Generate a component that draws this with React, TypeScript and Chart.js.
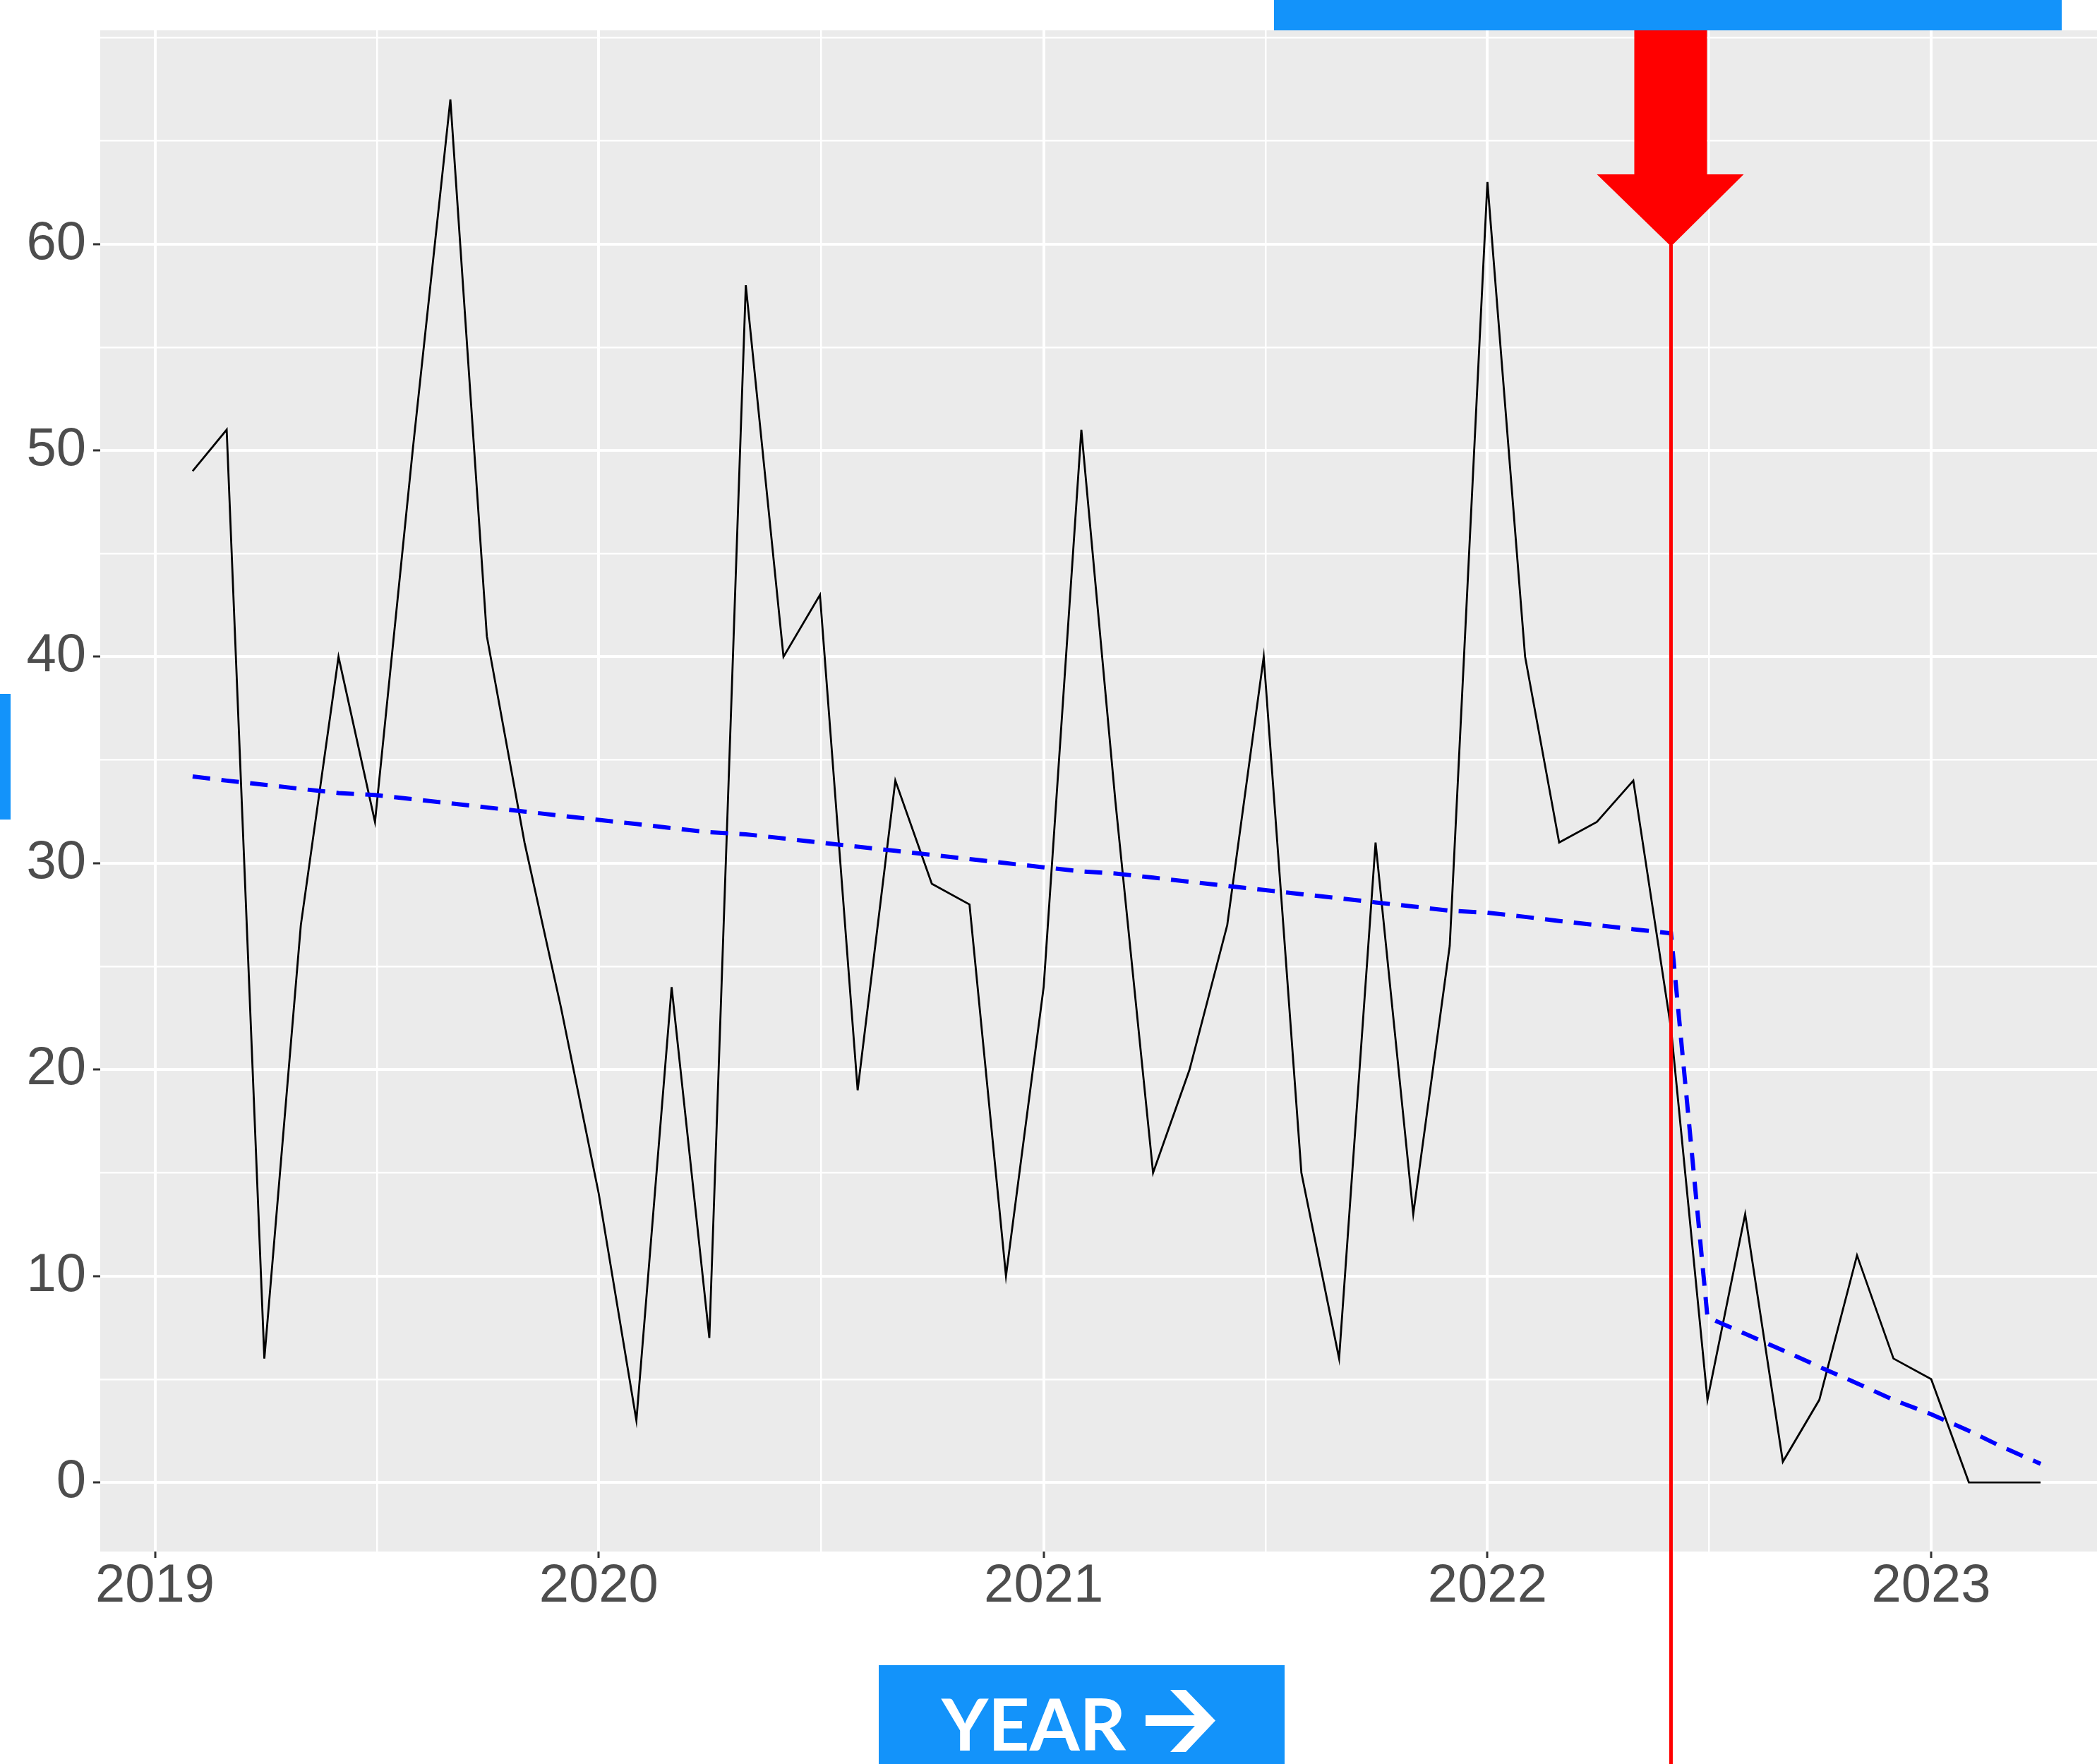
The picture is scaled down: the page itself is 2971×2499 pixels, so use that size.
import { useEffect, useRef } from 'react';
import { Chart, registerables } from 'chart.js';

Chart.register(...registerables);

// Monthly observations (first day of each month)
const months = [
  '2019-02', '2019-03', '2019-04', '2019-05', '2019-06', '2019-07', '2019-08', '2019-09', '2019-10', '2019-11', '2019-12',
  '2020-01', '2020-02', '2020-03', '2020-04', '2020-05', '2020-06', '2020-07', '2020-08', '2020-09', '2020-10', '2020-11', '2020-12',
  '2021-01', '2021-02', '2021-03', '2021-04', '2021-05', '2021-06', '2021-07', '2021-08', '2021-09', '2021-10', '2021-11', '2021-12',
  '2022-01', '2022-02', '2022-03', '2022-04', '2022-05', '2022-06', '2022-07', '2022-08', '2022-09', '2022-10', '2022-11', '2022-12',
  '2023-01', '2023-02', '2023-03', '2023-04',
];

const monthlyCount = [
  49, 51, 6, 27, 40, 32, 50, 67, 41, 31, 23,
  14, 3, 24, 7, 58, 40, 43, 19, 34, 29, 28, 10,
  24, 51, 33, 15, 20, 27, 40, 15, 6, 31, 13, 26,
  63, 40, 31, 32, 34, 22, 4, 13, 1, 4, 11, 6,
  5, 0, 0, 0,
];

// Fitted segmented trend (before / after the intervention)
const fittedTrend = [
  34.2, 34.0, 33.8, 33.6, 33.4, 33.3, 33.1, 32.9, 32.7, 32.5, 32.3,
  32.1, 31.9, 31.7, 31.5, 31.4, 31.2, 31.0, 30.8, 30.6, 30.4, 30.2, 30.0,
  29.8, 29.6, 29.5, 29.3, 29.1, 28.9, 28.7, 28.5, 28.3, 28.1, 27.9, 27.7,
  27.6, 27.4, 27.2, 27.0, 26.8, 26.6, 8.0, 7.2, 6.4, 5.6, 4.8, 4.0,
  3.3, 2.5, 1.7, 0.9,
];

const interventionMonth = '2022-06';

const yMajorTicks = [0, 10, 20, 30, 40, 50, 60];
const yMinorTicks = [5, 15, 25, 35, 45, 55, 65, 70];
const xMajorYears = [2019, 2020, 2021, 2022, 2023];
const xAxisBadge = 'YEAR';

const W = 3022;
const H = 2499;
const VIEW_W = 2971;
const BLUE = '#1393FA';
const RED = '#FF0000';

const DAY_MS = 86400000;
const dayOf = (y: number, m: number, d = 1) => Date.UTC(y, m - 1, d) / DAY_MS;
const monthDay = (ym: string) => {
  const [y, m] = ym.split('-').map(Number);
  return dayOf(y, m);
};

const firstDay = monthDay(months[0]);
const lastDay = monthDay(months[months.length - 1]);
const span = lastDay - firstDay;
const xMin = firstDay - 0.05 * span;
const xMax = lastDay + 0.05 * span;

const xMajorDays = xMajorYears.map((y) => dayOf(y, 1));
const xMinorDays: number[] = [];
for (let i = 0; i < xMajorDays.length - 1; i++) {
  xMinorDays.push((xMajorDays[i] + xMajorDays[i + 1]) / 2);
}

const isMajorX = (v: number) => xMajorDays.some((d) => Math.abs(d - v) < 0.01);
const isMajorY = (v: number) => yMajorTicks.includes(v);

const decorations = {
  id: 'decorations',
  beforeDraw(chart: any) {
    const { ctx, chartArea: a } = chart;
    ctx.save();
    ctx.fillStyle = '#EBEBEB';
    ctx.fillRect(a.left, a.top, a.right - a.left, a.bottom - a.top);
    ctx.restore();
  },
  afterDraw(chart: any) {
    const ctx: CanvasRenderingContext2D = chart.ctx;
    const cx = chart.scales.x.getPixelForValue(monthDay(interventionMonth));
    const tipY = 349;
    ctx.save();

    // intervention line
    ctx.fillStyle = RED;
    ctx.fillRect(cx - 2.5, tipY - 2, 5, H - tipY + 2);

    // pointer arrow
    ctx.beginPath();
    ctx.moveTo(cx - 52, 0);
    ctx.lineTo(cx + 51, 0);
    ctx.lineTo(cx + 51, 247);
    ctx.lineTo(cx + 103, 247);
    ctx.lineTo(cx, tipY);
    ctx.lineTo(cx - 105, 247);
    ctx.lineTo(cx - 52, 247);
    ctx.closePath();
    ctx.fill();

    // banner strip at top
    ctx.fillStyle = BLUE;
    ctx.fillRect(1805, 0, 1116, 43);

    // side marker
    ctx.fillRect(0, 983, 15, 178);

    // axis badge
    ctx.fillRect(1245, 2359, 575, H - 2359);
    ctx.fillStyle = '#FFFFFF';
    ctx.font = 'bold 102px Lato';
    ctx.textBaseline = 'alphabetic';
    ctx.textAlign = 'left';
    ctx.fillText(xAxisBadge, 1334, 2480);

    // arrow glyph next to the badge text
    ctx.fillRect(1623, 2430, 80, 15);
    ctx.beginPath();
    ctx.moveTo(1658, 2394);
    ctx.lineTo(1680, 2394);
    ctx.lineTo(1722, 2437.5);
    ctx.lineTo(1680, 2482);
    ctx.lineTo(1658, 2482);
    ctx.lineTo(1700, 2437.5);
    ctx.closePath();
    ctx.fill();

    ctx.restore();
  },
};

export default function App() {
  const canvasRef = useRef<HTMLCanvasElement | null>(null);

  useEffect(() => {
    document.body.style.margin = '0';
    document.documentElement.style.overflow = 'hidden';
    const canvas = canvasRef.current;
    if (!canvas) return;

    const chart = new Chart(canvas, {
      type: 'line',
      data: {
        datasets: [
          {
            label: 'trend',
            data: months.map((m, i) => ({ x: monthDay(m), y: fittedTrend[i] })),
            borderColor: '#0000FF',
            borderWidth: 6,
            borderDash: [25, 16],
            borderCapStyle: 'butt',
            pointRadius: 0,
            tension: 0,
            fill: false,
            order: 0,
          },
          {
            label: 'count',
            data: months.map((m, i) => ({ x: monthDay(m), y: monthlyCount[i] })),
            borderColor: '#000000',
            borderWidth: 2.8,
            pointRadius: 0,
            tension: 0,
            fill: false,
            order: 1,
          },
        ],
      },
      options: {
        animation: false,
        responsive: false,
        devicePixelRatio: 1,
        layout: { padding: { top: 43, left: 0, right: 0, bottom: 0 } },
        plugins: { legend: { display: false }, tooltip: { enabled: false } },
        scales: {
          x: {
            type: 'linear',
            min: xMin,
            max: xMax,
            afterBuildTicks: (s: any) => {
              s.ticks = [...xMajorDays, ...xMinorDays].sort((a, b) => a - b).map((v) => ({ value: v }));
            },
            afterFit: (s: any) => {
              s.height = H - 2198;
              s.paddingLeft = 0;
              s.paddingRight = 0;
              s.paddingTop = 0;
              s.paddingBottom = 0;
            },
            border: { display: false },
            grid: {
              color: '#FFFFFF',
              lineWidth: (c: any) => (isMajorX(c.tick?.value) ? 4 : 2.5),
              tickColor: (c: any) => (isMajorX(c.tick?.value) ? '#333333' : 'rgba(0,0,0,0)'),
              tickWidth: 3,
              tickLength: 9,
            },
            ticks: {
              autoSkip: false,
              maxRotation: 0,
              padding: 3,
              color: '#4D4D4D',
              font: { family: 'Liberation Sans', size: 76, lineHeight: 1 },
              callback: (v: any) => {
                const i = xMajorDays.findIndex((d) => Math.abs(d - v) < 0.01);
                return i >= 0 ? String(xMajorYears[i]) : '';
              },
            },
          },
          y: {
            type: 'linear',
            min: -3.35,
            max: 70.35,
            afterBuildTicks: (s: any) => {
              s.ticks = [...yMajorTicks, ...yMinorTicks].sort((a, b) => a - b).map((v) => ({ value: v }));
            },
            afterFit: (s: any) => {
              s.width = 142;
              s.paddingLeft = 0;
              s.paddingRight = 0;
              s.paddingTop = 0;
              s.paddingBottom = 0;
            },
            border: { display: false },
            grid: {
              color: '#FFFFFF',
              lineWidth: (c: any) => (isMajorY(c.tick?.value) ? 4 : 2.5),
              tickColor: (c: any) => (isMajorY(c.tick?.value) ? '#333333' : 'rgba(0,0,0,0)'),
              tickWidth: 3,
              tickLength: 10,
            },
            ticks: {
              autoSkip: false,
              padding: 10,
              color: '#4D4D4D',
              font: { family: 'Liberation Sans', size: 76, lineHeight: 1 },
              callback: (v: any) => (isMajorY(v) ? String(v) : ''),
            },
          },
        },
      },
      plugins: [decorations],
    });

    document.fonts?.ready.then(() => chart.draw());

    return () => chart.destroy();
  }, []);

  return (
    <div
      style={{
        position: 'absolute',
        left: 0,
        top: 0,
        width: VIEW_W,
        height: H,
        overflow: 'hidden',
        background: '#FFFFFF',
      }}
    >
      <canvas ref={canvasRef} width={W} height={H} style={{ display: 'block', width: W, height: H }} />
    </div>
  );
}
